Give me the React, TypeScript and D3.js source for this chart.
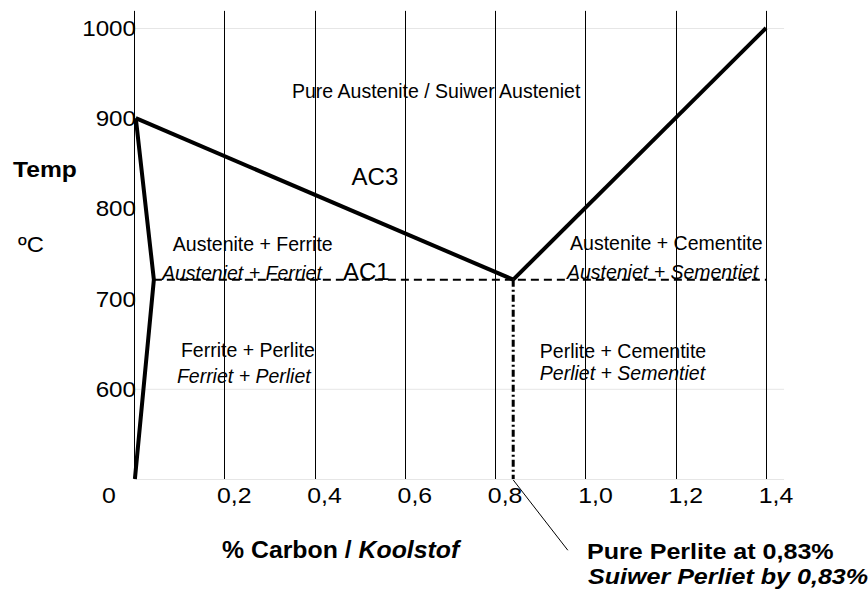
import * as d3 from "d3";
import { useEffect, useRef } from "react";

const WIDTH = 868;
const HEIGHT = 591;

// % carbon ticks and temperature ticks
const xTicks = [0, 0.2, 0.4, 0.6, 0.8, 1.0, 1.2, 1.4];
const yTicks = [600, 700, 800, 900, 1000];
const faintTemps = [1000, 600, 500];

// phase boundaries [carbon %, temp °C]
const ferriteLine: [number, number][] = [
  [0.004, 900],
  [0.044, 721],
  [0.002, 500],
];
const a3Line: [number, number][] = [
  [0.004, 900],
  [0.84, 721],
];
const acmLine: [number, number][] = [
  [0.84, 721],
  [1.4, 1000],
];
const eutectoid: [number, number] = [0.84, 721];
const ac1Start = 0.044;

type Label = { text: string; x: number; t: number; italic?: boolean; size: number };

const regionLabels: Label[] = [
  { text: "Pure Austenite / Suiwer Austeniet", x: 0.35, t: 922, size: 19.5 },
  { text: "AC3", x: 0.482, t: 826, size: 24 },
  { text: "Austenite + Ferrite", x: 0.086, t: 753, size: 19.5 },
  { text: "Austeniet + Ferriet", x: 0.062, t: 721, italic: true, size: 19.5 },
  { text: "AC1", x: 0.463, t: 721, size: 24 },
  { text: "Austenite + Cementite", x: 0.966, t: 754, size: 19.5 },
  { text: "Austeniet + Sementiet", x: 0.959, t: 722, italic: true, size: 19.5 },
  { text: "Ferrite + Perlite", x: 0.104, t: 635, size: 19.5 },
  { text: "Ferriet + Perliet", x: 0.095, t: 606, italic: true, size: 19.5 },
  { text: "Perlite + Cementite", x: 0.899, t: 634, size: 19.5 },
  { text: "Perliet + Sementiet", x: 0.899, t: 610, italic: true, size: 19.5 },
];

const FONT = "'Liberation Sans', Arial, sans-serif";

export default function App() {
  const ref = useRef<SVGSVGElement>(null);

  useEffect(() => {
    const el = ref.current;
    if (!el) return;
    const svg = d3.select(el);
    svg.selectAll("*").remove();

    const x = d3.scaleLinear().domain([0, 1.4]).range([134, 766]);
    const y = d3.scaleLinear().domain([500, 1000]).range([479, 28]);

    const line = d3
      .line<[number, number]>()
      .x((d) => x(d[0]))
      .y((d) => y(d[1]));

    // text with a slight horizontal stretch, like the original's
    const addText = (px: number, py: number, size: number, sx: number, str: string) =>
      svg
        .append("text")
        .attr("transform", `translate(${px},${py}) scale(${sx},1)`)
        .attr("font-family", FONT)
        .attr("font-size", size)
        .text(str);

    // faint horizontal gridlines
    svg
      .append("g")
      .selectAll("line")
      .data(faintTemps)
      .join("line")
      .attr("x1", x(0))
      .attr("x2", x(1.44))
      .attr("y1", (d) => y(d) + 0.5)
      .attr("y2", (d) => y(d) + 0.5)
      .attr("stroke", "#e6e6e6")
      .attr("stroke-width", 1);

    // vertical gridlines
    svg
      .append("g")
      .selectAll("line")
      .data(xTicks)
      .join("line")
      .attr("x1", (d) => Math.round(x(d)) + 0.5)
      .attr("x2", (d) => Math.round(x(d)) + 0.5)
      .attr("y1", y(1019))
      .attr("y2", y(500))
      .attr("stroke", "#000")
      .attr("stroke-width", 1);

    // AC1 dashed line
    svg
      .append("line")
      .attr("x1", x(ac1Start))
      .attr("x2", x(1.4))
      .attr("y1", y(eutectoid[1]))
      .attr("y2", y(eutectoid[1]))
      .attr("stroke", "#000")
      .attr("stroke-width", 2)
      .attr("stroke-dasharray", "8,5");

    // eutectoid dash-dot drop line
    svg
      .append("line")
      .attr("x1", x(eutectoid[0]))
      .attr("x2", x(eutectoid[0]))
      .attr("y1", y(eutectoid[1]))
      .attr("y2", y(500))
      .attr("stroke", "#000")
      .attr("stroke-width", 3)
      .attr("stroke-dasharray", "7,3,2,3");

    // phase boundaries
    [ferriteLine, a3Line, acmLine].forEach((pts) => {
      svg
        .append("path")
        .attr("d", line(pts) ?? "")
        .attr("fill", "none")
        .attr("stroke", "#000")
        .attr("stroke-width", 4)
        .attr("stroke-linejoin", "miter");
    });

    // leader to eutectoid note
    svg
      .append("line")
      .attr("x1", x(eutectoid[0]))
      .attr("y1", y(499))
      .attr("x2", x(0.961))
      .attr("y2", y(421))
      .attr("stroke", "#000")
      .attr("stroke-width", 1);

    // y tick labels
    yTicks.forEach((d) => {
      addText(136, y(d) + 8, 22, 1.1, String(d)).attr("text-anchor", "end");
    });

    // x tick labels
    xTicks.forEach((d) => {
      const label = d === 0 ? "0" : d3.format(".1f")(d).replace(".", ",");
      addText(x(d) + (d === 0 ? -25 : 10), 503, 22, 1.13, label).attr("text-anchor", "middle");
    });

    // region labels
    svg
      .append("g")
      .selectAll("text")
      .data(regionLabels)
      .join("text")
      .attr("x", (d) => x(d.x))
      .attr("y", (d) => y(d.t))
      .attr("font-family", FONT)
      .attr("font-size", (d) => d.size)
      .attr("font-style", (d) => (d.italic ? "italic" : "normal"))
      .text((d) => d.text);

    // axis titles
    addText(13, 177, 22, 1.12, "Temp").attr("font-weight", "bold");
    addText(18, 252, 22, 1.08, "ºC");

    const xt = addText(222, 558, 23, 1.08, "").attr("font-weight", "bold");
    xt.append("tspan").text("% Carbon / ");
    xt.append("tspan").attr("font-style", "italic").text("Koolstof");

    addText(587, 559, 22, 1.14, "Pure Perlite at 0,83%").attr("font-weight", "bold");
    addText(588, 584, 22, 1.14, "Suiwer Perliet by 0,83%")
      .attr("font-weight", "bold")
      .attr("font-style", "italic");
  }, []);

  return (
    <svg
      ref={ref}
      width={WIDTH}
      height={HEIGHT}
      style={{ position: "absolute", left: 0, top: 0, background: "#fff" }}
    />
  );
}
